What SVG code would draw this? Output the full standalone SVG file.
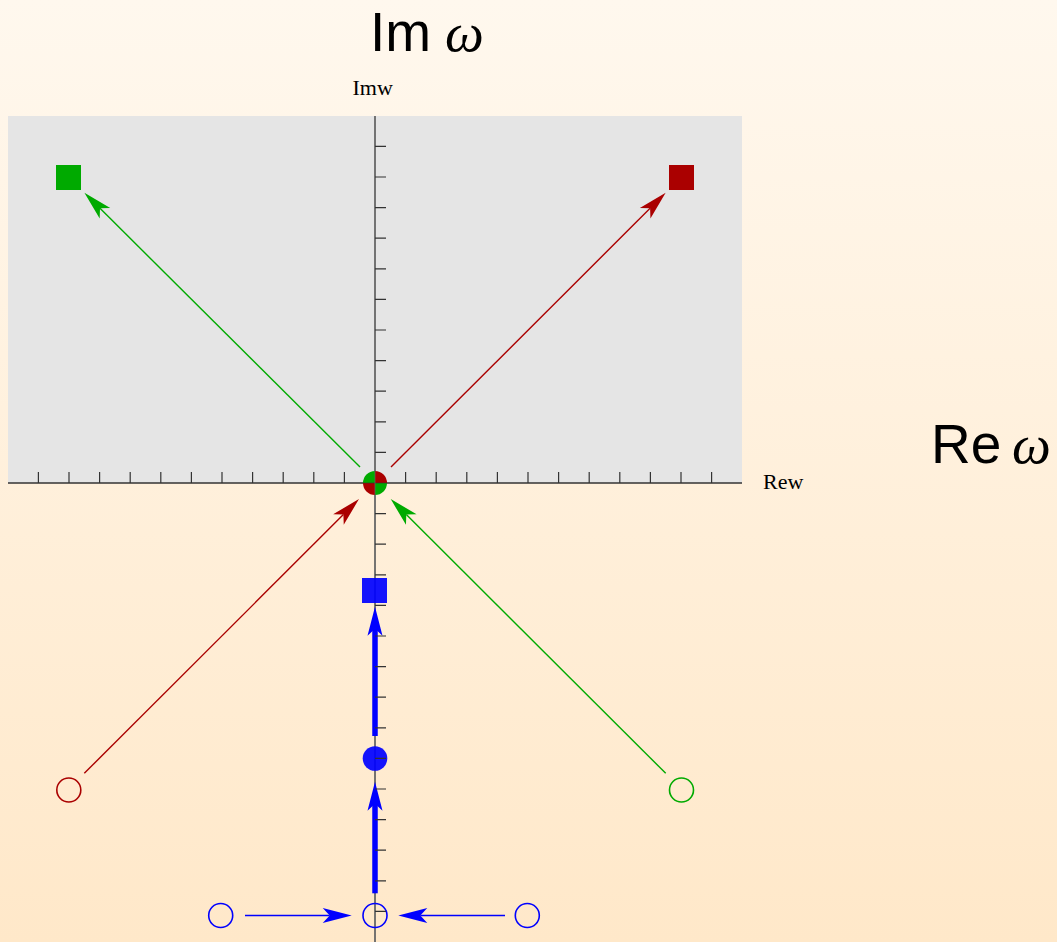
<svg xmlns="http://www.w3.org/2000/svg" width="1057" height="942" viewBox="0 0 1057 942">
<defs>
<linearGradient id="bg" x1="0" y1="0" x2="0" y2="1">
<stop offset="0" stop-color="#fff8ee"/>
<stop offset="1" stop-color="#ffe8c9"/>
</linearGradient>
<marker id="ag" viewBox="0 -8 30 16" refX="7" refY="0" markerWidth="30" markerHeight="16" markerUnits="userSpaceOnUse" orient="auto" overflow="visible"><path d="M29,0 L0,-7.5 L7,0 L0,7.5 Z" fill="#00aa00"/></marker>
<marker id="ar" viewBox="0 -8 30 16" refX="7" refY="0" markerWidth="30" markerHeight="16" markerUnits="userSpaceOnUse" orient="auto" overflow="visible"><path d="M29,0 L0,-7.5 L7,0 L0,7.5 Z" fill="#aa0000"/></marker>
<marker id="ab" viewBox="0 -8 30 16" refX="7" refY="0" markerWidth="30" markerHeight="16" markerUnits="userSpaceOnUse" orient="auto" overflow="visible"><path d="M29,0 L0,-7.5 L7,0 L0,7.5 Z" fill="#0000ff"/></marker>
</defs>
<style>
.big{font-family:"Liberation Sans",Arial,sans-serif;font-size:55px;fill:#000}
.om{font-family:"Liberation Serif","DejaVu Serif",serif;font-style:italic;font-size:55px;fill:#000}
.lab{font-family:"Liberation Serif","Times New Roman",serif;font-size:22px;fill:#000}
.g{stroke:#00aa00;stroke-width:1.4;fill:none}
.r{stroke:#aa0000;stroke-width:1.4;fill:none}
.b{stroke:#0000ff;stroke-width:1.5;fill:none}
.bt{stroke:#0000ff;stroke-width:5.5;fill:none}
.oc{fill:none;stroke-width:1.6}
</style>
<rect width="1057" height="942" fill="url(#bg)"/>
<rect x="8" y="116" width="734" height="367" fill="#e5e5e5"/>

<g id="axis-lines">
<line x1="8" y1="483" x2="742" y2="483" stroke="#333" stroke-width="1.3"/>
<line x1="375" y1="116" x2="375" y2="942" stroke="#666" stroke-width="1.8"/>
</g>

<g id="connectors">
<line class="g" x1="360" y1="467" x2="100" y2="208.3" marker-end="url(#ag)"/>
<line class="r" x1="391" y1="467" x2="650.1" y2="208.3" marker-end="url(#ar)"/>
<line class="r" x1="84.3" y1="773.3" x2="343.4" y2="514.6" marker-end="url(#ar)"/>
<line class="g" x1="665.7" y1="773.3" x2="406.3" y2="514.6" marker-end="url(#ag)"/>
<line class="bt" x1="375" y1="736" x2="375" y2="628.7" marker-end="url(#ab)"/>
<line class="bt" x1="375" y1="893.3" x2="375" y2="803.7" marker-end="url(#ab)"/>
<line class="b" x1="245" y1="915.5" x2="329.7" y2="915.5" marker-end="url(#ab)"/>
<line class="b" x1="505" y1="915.5" x2="420.3" y2="915.5" marker-end="url(#ab)"/>
</g>

<g id="green-square"><rect x="56" y="165" width="25" height="25" fill="#00aa00"/></g>
<g id="red-square"><rect x="669" y="165" width="25" height="25" fill="#aa0000"/></g>
<g id="blue-square"><rect x="362" y="578" width="25" height="25" fill="#0000ff" fill-opacity="0.92"/></g>
<g id="blue-dot"><circle cx="375" cy="758.5" r="12.3" fill="#0000ff" fill-opacity="0.92"/></g>
<g id="red-circle"><circle class="oc" cx="68.8" cy="790" r="12" stroke="#aa0000"/></g>
<g id="green-circle"><circle class="oc" cx="681.5" cy="790" r="12" stroke="#00aa00"/></g>
<g id="blue-circle-left"><circle class="oc" cx="220.7" cy="915.5" r="12" stroke="#0000ff"/></g>
<g id="blue-circle-mid"><circle class="oc" cx="375" cy="915.5" r="12" stroke="#0000ff"/></g>
<g id="blue-circle-right"><circle class="oc" cx="527.3" cy="915.5" r="12" stroke="#0000ff"/></g>
<g id="origin">
<path d="M375,483 L363,483 A12,12 0 0 1 375,471 Z" fill="#00aa00"/>
<path d="M375,483 L375,471 A12,12 0 0 1 387,483 Z" fill="#aa0000"/>
<path d="M375,483 L387,483 A12,12 0 0 1 375,495 Z" fill="#00aa00"/>
<path d="M375,483 L375,495 A12,12 0 0 1 363,483 Z" fill="#aa0000"/>
<line x1="363" y1="483" x2="387" y2="483" stroke="#333" stroke-width="1" opacity="0.6"/>
<line x1="375" y1="471" x2="375" y2="495" stroke="#666" stroke-width="1.2" opacity="0.6"/>
</g>

<g id="ticks">
<path stroke="#333" stroke-width="1.2" fill="none" d="M38.4,483v-11M69,483v-11M99.6,483v-11M130.2,483v-11M160.8,483v-11M191.4,483v-11M222,483v-11M252.6,483v-11M283.2,483v-11M313.8,483v-11M344.4,483v-11M405.6,483v-11M436.2,483v-11M466.8,483v-11M497.4,483v-11M528,483v-11M558.6,483v-11M589.2,483v-11M619.8,483v-11M650.4,483v-11M681,483v-11M711.6,483v-11"/>
<path stroke="#333" stroke-width="1.2" fill="none" d="M375,452.4h11M375,421.8h11M375,391.2h11M375,360.6h11M375,330h11M375,299.4h11M375,268.8h11M375,238.2h11M375,207.6h11M375,177h11M375,146.4h11M375,513.6h11M375,544.2h11M375,574.8h11M375,605.4h11M375,636h11M375,666.6h11M375,697.2h11M375,727.8h11M375,758.4h11M375,789h11M375,819.6h11M375,850.2h11M375,880.8h11M375,911.4h11"/>
<text class="lab" x="352.5" y="94.5">Imw</text>
<text class="lab" x="763" y="489">Rew</text>
</g>

<g id="titles">
<text class="big" x="370" y="51">Im</text>
<text class="om" x="445" y="51">ω</text>
<text class="big" x="931" y="463">Re</text>
<text class="om" x="1012" y="463">ω</text>
</g>
</svg>
